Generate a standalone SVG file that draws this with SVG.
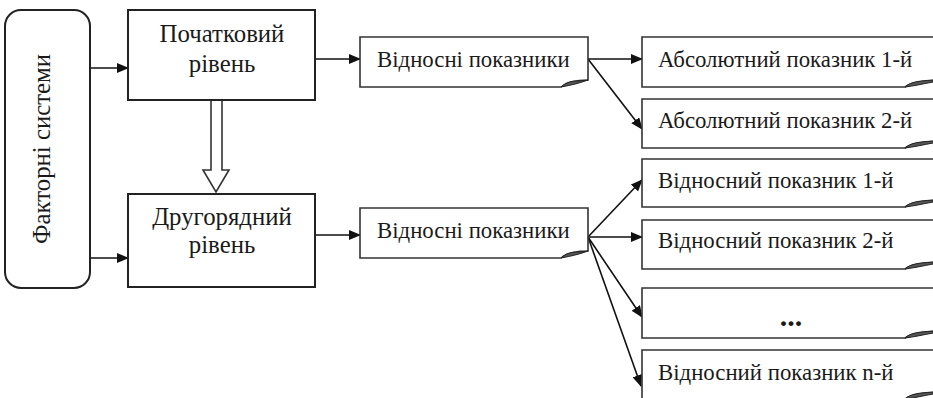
<svg xmlns="http://www.w3.org/2000/svg" width="933" height="398" viewBox="0 0 933 398">
<defs>
<style>
text{font-family:"Liberation Serif","Times New Roman",serif;fill:#1a1a1a;}
.t{font-size:24.8px;}
.s{font-size:22.8px;}
.box{fill:#fff;stroke:#222;stroke-width:2;}
.doc{fill:#fff;stroke:#333;stroke-width:1.6;}
.curl{fill:#555;stroke:#222;stroke-width:1;}
.ln{fill:none;stroke:#111;stroke-width:1.6;}
</style>
<marker id="ah" markerWidth="12" markerHeight="10" refX="11" refY="5" orient="auto" markerUnits="userSpaceOnUse">
<path d="M0,0 L12,5 L0,10 Z" fill="#111"/>
</marker>
</defs>
<rect width="933" height="398" fill="#fff"/>
<g id="connectors">
<line class="ln" x1="90" y1="68" x2="128" y2="68" marker-end="url(#ah)"/>
<line class="ln" x1="90" y1="258" x2="128" y2="258" marker-end="url(#ah)"/>
<line class="ln" x1="315" y1="59" x2="360" y2="59" marker-end="url(#ah)"/>
<line class="ln" x1="315" y1="235" x2="360" y2="235" marker-end="url(#ah)"/>
<path d="M211,100 V170 H203 L216,192 L229,170 H222 V100" fill="#fff" stroke="#333" stroke-width="1.6"/>
<line class="ln" x1="588" y1="59" x2="642" y2="59" marker-end="url(#ah)"/>
<line class="ln" x1="588" y1="59" x2="642" y2="129" marker-end="url(#ah)"/>
<line class="ln" x1="588" y1="237" x2="642" y2="180" marker-end="url(#ah)"/>
<line class="ln" x1="588" y1="237" x2="642" y2="237" marker-end="url(#ah)"/>
<line class="ln" x1="588" y1="237" x2="642" y2="317" marker-end="url(#ah)"/>
<line class="ln" x1="588" y1="237" x2="641" y2="386" marker-end="url(#ah)"/>
</g>
<g id="factor-systems">
<rect class="box" x="5" y="10" width="85" height="278" rx="16"/>
<text class="t" transform="translate(50,149) rotate(-90)" text-anchor="middle">Факторні системи</text>
</g>
<g id="initial-level">
<rect class="box" x="128" y="10" width="187" height="90"/>
<text class="t" x="222" y="42" text-anchor="middle">Початковий</text>
<text class="t" x="222" y="72" text-anchor="middle">рівень</text>
</g>
<g id="secondary-level">
<rect class="box" x="128" y="194" width="187" height="93"/>
<text class="t" x="222" y="225" text-anchor="middle">Другорядний</text>
<text class="t" x="222" y="253" text-anchor="middle">рівень</text>
</g>
<g id="relative-top">
<path class="doc" d="M360,37 H588 V80 C578,80 568,81 561,87 H360 Z"/>
<path class="curl" d="M561,87 C566,82 572,81 578,81 L588,80 C580,83 572,85 561,87 Z"/>
<text class="s" x="377" y="67">Відносні показники</text>
</g>
<g id="relative-bottom">
<path class="doc" d="M360,208 H588 V251 C578,251 568,252 561,258 H360 Z"/>
<path class="curl" d="M561,258 C566,253 572,252 578,252 L588,251 C580,254 572,256 561,258 Z"/>
<text class="s" x="377" y="238">Відносні показники</text>
</g>
<g id="abs-1">
<path class="doc" d="M945,37 H642 V87 H905 C912,82 922,81 945,80"/>
<path class="curl" d="M905,87 C910,82 918,81 933,80 L933,82 C922,84 914,86 905,87 Z"/>
<text class="s" x="658" y="67">Абсолютний показник 1-й</text>
</g>
<g id="abs-2">
<path class="doc" d="M945,99 H642 V148 H905 C912,143 922,142 945,141"/>
<path class="curl" d="M905,148 C910,143 918,142 933,141 L933,143 C922,145 914,147 905,148 Z"/>
<text class="s" x="658" y="128">Абсолютний показник 2-й</text>
</g>
<g id="rel-1">
<path class="doc" d="M945,159 H642 V207 H905 C912,202 922,201 945,200"/>
<path class="curl" d="M905,207 C910,202 918,201 933,200 L933,202 C922,204 914,206 905,207 Z"/>
<text class="s" x="658" y="188">Відносний показник 1-й</text>
</g>
<g id="rel-2">
<path class="doc" d="M945,220 H642 V269 H905 C912,264 922,263 945,262"/>
<path class="curl" d="M905,269 C910,264 918,263 933,262 L933,264 C922,266 914,268 905,269 Z"/>
<text class="s" x="658" y="248">Відносний показник 2-й</text>
</g>
<g id="rel-dots">
<path class="doc" d="M945,288 H642 V338 H905 C912,333 922,332 945,331"/>
<path class="curl" d="M905,338 C910,333 918,332 933,331 L933,333 C922,335 914,337 905,338 Z"/>
<text x="791" y="326" text-anchor="middle" font-weight="bold" font-size="30">...</text>
</g>
<g id="rel-n">
<path class="doc" d="M945,350 H642 V399 H905 C912,394 922,393 945,392"/>
<path class="curl" d="M905,399 C910,394 918,393 933,392 L933,394 C922,396 914,398 905,399 Z"/>
<text class="s" x="658" y="380">Відносний показник n-й</text>
</g>
</svg>
